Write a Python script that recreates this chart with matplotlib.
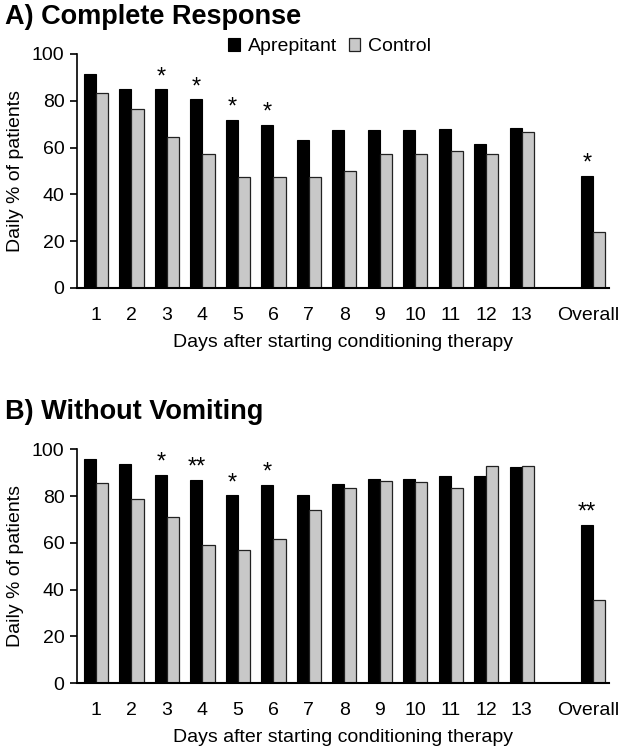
import matplotlib
matplotlib.use("Agg")
import matplotlib.pyplot as plt
import matplotlib.transforms as mtransforms
import numpy as np

plt.rcParams['font.family'] = ['Liberation Sans', 'DejaVu Sans']

# --- data ---
categories = [str(d) for d in range(1, 14)] + ["Overall"]
positions = list(range(1, 14)) + [15]

cr_aprepitant = [91.4, 84.9, 84.9, 80.6, 71.8, 69.7, 63.2, 67.5, 67.5, 67.5, 67.8, 61.7, 68.2, 47.9]
cr_control = [83.4, 76.4, 64.4, 57.3, 47.6, 47.6, 47.6, 50.1, 57.3, 57.3, 58.7, 57.3, 66.8, 23.8]
cr_stars = ["", "", "*", "*", "*", "*", "", "", "", "", "", "", "", "*"]

wv_aprepitant = [95.7, 93.6, 89.0, 86.9, 80.3, 84.7, 80.3, 85.0, 87.2, 87.2, 88.5, 88.7, 92.3, 67.7]
wv_control = [85.7, 78.6, 71.1, 59.1, 56.9, 61.7, 73.9, 83.5, 86.3, 85.9, 83.5, 92.9, 92.9, 35.6]
wv_stars = ["", "", "*", "**", "*", "*", "", "", "", "", "", "", "", "**"]

BLACK = "#000000"
GRAY = "#c8c8c8"
W = 0.34


def draw_panel(fig, ax, apr, ctl, stars, legend=False):
    x = np.array(positions, dtype=float)
    b1 = ax.bar(x - W / 2, apr, W, color=BLACK, edgecolor=BLACK, linewidth=0.8, label="Aprepitant")
    b2 = ax.bar(x + W / 2, ctl, W, color=GRAY, edgecolor="#222222", linewidth=0.9, label="Control")
    for xi, v, s in zip(x, apr, stars):
        if s:
            ax.text(xi - W / 2, v + 0.5, s, ha="center", va="bottom", fontsize=17)

    ax.set_xlim(0.465, 15.45)
    ax.set_ylim(0, 100)
    ax.set_yticks([0, 20, 40, 60, 80, 100])
    ax.set_xticks(x)
    ax.set_xticklabels(categories)
    ax.tick_params(axis="x", length=0, labelsize=14, pad=14)
    ax.tick_params(axis="y", length=5, width=1.2, labelsize=14, pad=4)
    for side in ["top", "right"]:
        ax.spines[side].set_visible(False)
    ax.spines["left"].set_linewidth(1.2)
    ax.spines["bottom"].set_linewidth(1.5)
    ax.set_ylabel("Daily % of patients", fontsize=14, labelpad=6)
    ax.set_xlabel("Days after starting conditioning therapy", fontsize=14, labelpad=7)

    # keep "Overall" inside the figure edge
    last = ax.get_xticklabels()[-1]
    last.set_transform(last.get_transform() +
                       mtransforms.ScaledTranslation(-5 / 100, 0, fig.dpi_scale_trans))

    if legend:
        ax.legend(handles=[b1, b2], loc="center", bbox_to_anchor=(0.475, 1.03), ncol=2,
                  frameon=False, fontsize=14, handlelength=0.6, handleheight=0.6,
                  handletextpad=0.4, columnspacing=0.6)


fig = plt.figure(figsize=(6.22, 7.5), dpi=100)
ax1 = fig.add_axes([0.1238, 0.616, 0.855, 0.312])
ax2 = fig.add_axes([0.1238, 0.0893, 0.855, 0.3117])

draw_panel(fig, ax1, cr_aprepitant, cr_control, cr_stars, legend=True)
draw_panel(fig, ax2, wv_aprepitant, wv_control, wv_stars)

fig.text(0.008, 0.978, "A) Complete Response", fontsize=19.5, fontweight="bold", va="center", ha="left")
fig.text(0.008, 0.451, "B) Without Vomiting", fontsize=19.5, fontweight="bold", va="center", ha="left")

fig.savefig("out.png", dpi=100)
